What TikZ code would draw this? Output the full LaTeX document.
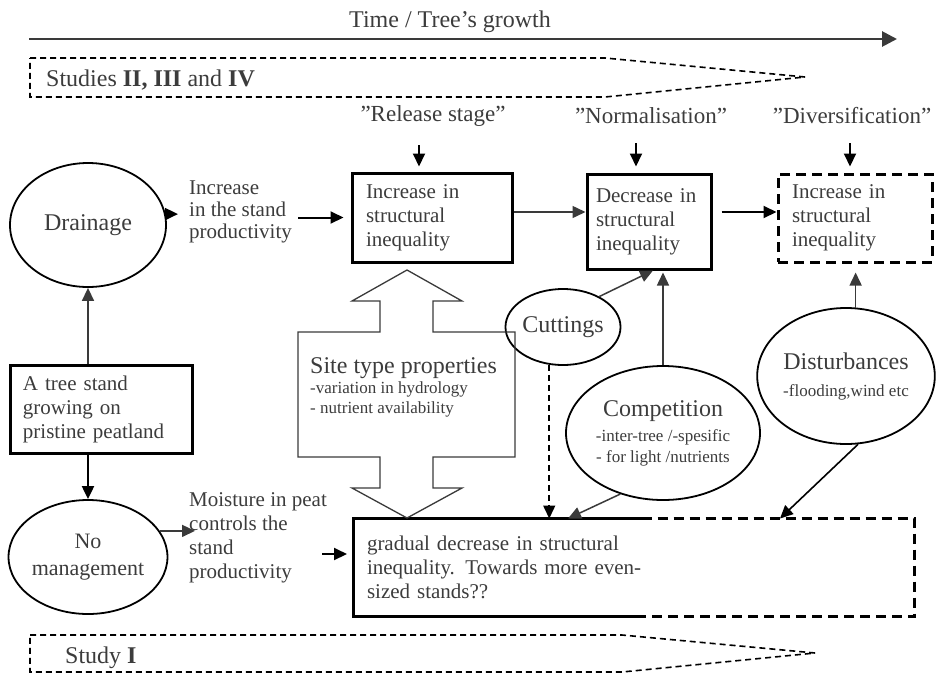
\documentclass[tikz,border=0pt]{standalone}
\usepackage{fontspec}
\setmainfont{Liberation Serif}
\usetikzlibrary{shapes.geometric,arrows.meta}
\definecolor{txt}{HTML}{3C3C3C}
\definecolor{lnk}{HTML}{3A3A3A}
\begin{document}
\begin{tikzpicture}[x=1pt,y=-1pt,>={Triangle[length=13pt,width=12pt]}]
	\def \rowarr{212}
	\def \labelht{116}
	\def \smallfs{\fontsize{17}{20}\selectfont}
	\def \bigfs{\fontsize{24}{26}\selectfont}
	\tikzstyle{s-box}=[rectangle,draw=black,line width=3pt,text=txt,align=left,inner xsep=14pt,inner ysep=0pt,font=\fontsize{21}{24}\selectfont]
	\tikzstyle{d-box}=[s-box,dash pattern=on 10pt off 6pt]
	\tikzstyle{e-node}=[ellipse,draw=black,line width=1.8pt,inner sep=0pt,text=txt,align=center,font=\bigfs]
	\tikzstyle{annot}=[text=txt,align=left,inner sep=0pt,font=\fontsize{21}{22}\selectfont]
	\tikzstyle{stage}=[text=txt,inner sep=0pt,font=\fontsize{23}{25}\selectfont]
	\tikzstyle{link}=[->,draw=lnk,line width=1.5pt]
	\tikzstyle{b-link}=[->,draw=black,line width=2pt]
	\tikzstyle{dashed-link}=[->,draw=black,line width=1.5pt,dash pattern=on 6pt off 4pt]
	\tikzstyle{study}=[draw=black,line width=1.6pt,dash pattern=on 6pt off 4pt]
	\useasboundingbox (0,0) rectangle (937,673);

	% time axis and studies
	\node[annot,font=\bigfs] 	(time)		at (450,22)		{Time / Tree’s growth};
	\coordinate (t-start) at (29,39);
	\coordinate (t-end) at (897,39);
	\draw[-{Triangle[length=15pt,width=15pt]},draw=lnk,line width=2.8pt] (t-start) -- (t-end);
	\draw[study] (30,58) -- (605,58) -- (805,77) -- (605,97) -- (30,97) -- cycle;
	\node[annot,anchor=west,font=\bigfs] 	(studies)	at (46,80)	{Studies \textbf{II, III} and \textbf{IV}};
	\draw[study] (30,635) -- (622,635) -- (815,653) -- (622,672) -- (30,672) -- cycle;
	\node[annot,anchor=west,font=\bigfs] 	(study-one)	at (65,658)	{Study \textbf{I}};

	% stages
	\node[stage] 	(rel-label)	at (433,\labelht)	{”Release stage”};
	\node[stage] 	(norm-label)	at (651,\labelht)	{”Normalisation”};
	\node[stage] 	(div-label)	at (852,\labelht)	{”Diversification”};
	\coordinate (rel-arr) at (419,145);
	\coordinate (norm-arr) at (636,143);
	\coordinate (div-arr) at (850,143);
	\coordinate (row-arr) at (0,\rowarr);

	% boxes
	\node[s-box,minimum width=160pt,minimum height=89pt,text width=132pt] 	(inc-box)	at (432,217.5)	{Increase in\\structural\\inequality};
	\node[s-box,minimum width=124pt,minimum height=95pt,text width=106pt,inner xsep=9pt] 	(dec-box)	at (649,221.5)	{Decrease in\\structural\\inequality};
	\node[d-box,minimum width=154pt,minimum height=88pt,text width=126pt] 	(div-box)	at (855,218)	{Increase in\\structural\\inequality};
	\node[s-box,minimum width=182pt,minimum height=88pt,text width=156pt,inner xsep=13pt] 	(tree)	at (101,409)	{A tree stand\\growing on\\pristine peatland};
	\node[s-box,draw=none,minimum width=558pt,minimum height=95pt,text width=534pt,inner xsep=12pt] 	(gradual)	at (634,567.5)	{gradual decrease in structural\\inequality. Towards more even-\\sized stands??};
	\draw[line width=3pt] ([xshift=288pt]gradual.north west) -- (gradual.north west) -- (gradual.south west) -- ([xshift=288pt]gradual.south west);
	\draw[line width=3pt,dash pattern=on 10pt off 6pt] ([xshift=288pt]gradual.north west) -- (gradual.north east) -- (gradual.south east) -- ([xshift=288pt]gradual.south west);

	% ellipses
	\node[e-node,minimum width=156pt,minimum height=124pt] 	(drain)	at (88,225)	{Drainage};
	\node[e-node,minimum width=156pt,minimum height=114pt,font=\fontsize{22}{27}\selectfont] 	(noman)	at (88,557)	{No\\management};
	\node[e-node,minimum width=96pt,minimum height=76pt] 	(cut)	at (563,327)	{Cuttings};
	\node[e-node,minimum width=194pt,minimum height=134pt,font=\fontsize{17}{21}\selectfont] 	(comp)	at (663,433)	{{\bigfs Competition}\\[4pt]-inter-tree /-spesific\\- for light /nutrients};
	\node[e-node,minimum width=174pt,minimum height=136pt,font=\smallfs] 	(dist)	at (846,376)	{{\bigfs Disturbances}\\[7pt]-flooding,wind etc};

	% site type arrow
	\draw[draw=lnk,line width=1.3pt] (407,270) -- (462,301) -- (433,301) -- (433,332) -- (515,332) -- (515,457) -- (433,457) -- (433,488) -- (462,488) -- (407,518) -- (352,488) -- (380,488) -- (380,457) -- (298,457) -- (298,332) -- (380,332) -- (380,301) -- (352,301) -- cycle;
	\node[annot,anchor=west,font=\smallfs] 	(site)	at (310,387)	{{\bigfs Site type properties}\\-variation in hydrology\\- nutrient availability};

	% labels
	\node[annot,anchor=west] 	(inc-label)	at (189,212)	{Increase\\in the stand\\productivity};
	\node[annot,anchor=west,font=\fontsize{21}{24}\selectfont] 	(moist)	at (189,538)	{Moisture in peat\\controls the\\stand\\productivity};
	\coordinate (grad-in) at (347,554);

	\path
		(rel-arr)	edge[b-link,shorten >=5pt]	(rel-arr |- inc-box.north)
		(norm-arr)	edge[b-link,shorten >=6pt]	(norm-arr |- dec-box.north)
		(div-arr)	edge[b-link,shorten >=6pt]	(div-arr |- div-box.north)
		%
		(drain.8)	edge[b-link,shorten <=-10pt,shorten >=11pt]	(drain.8 -| inc-label.west)
		(inc-box.west -| inc-label.east)	edge[b-link,shorten <=6pt,shorten >=7pt]	(inc-box.west)
		(inc-box.east |- row-arr)	edge[link]	(dec-box.west |- row-arr)
		(dec-box.east |- row-arr)	edge[b-link,shorten <=9pt]	(div-box.west |- row-arr)
		%
		(tree.north -| drain.south)	edge[link]	(drain.south)
		(tree.south -| noman.north)	edge[b-link]	(noman.north)
		(noman.20)	edge[link,shorten >=-6pt]	(noman.20 -| moist.west)
		(moist.east |- grad-in)	edge[b-link,shorten <=-5pt]	(grad-in)
		%
		(cut.40)	edge[link]	([xshift=4pt]dec-box.south)
		(comp.north)	edge[link,shorten >=2pt]	(comp.north |- dec-box.south)
		(cut.250)	edge[dashed-link]	(cut.250 |- gradual.north)
		(comp.235)	edge[link]	([xshift=-66pt]gradual.north)
		(dist.280)	edge[b-link,line width=1.6pt]	([xshift=146pt]gradual.north)
		(dist.82)	edge[link,shorten >=9pt]	(dist.82 |- div-box.south);
\end{tikzpicture}
\end{document}
